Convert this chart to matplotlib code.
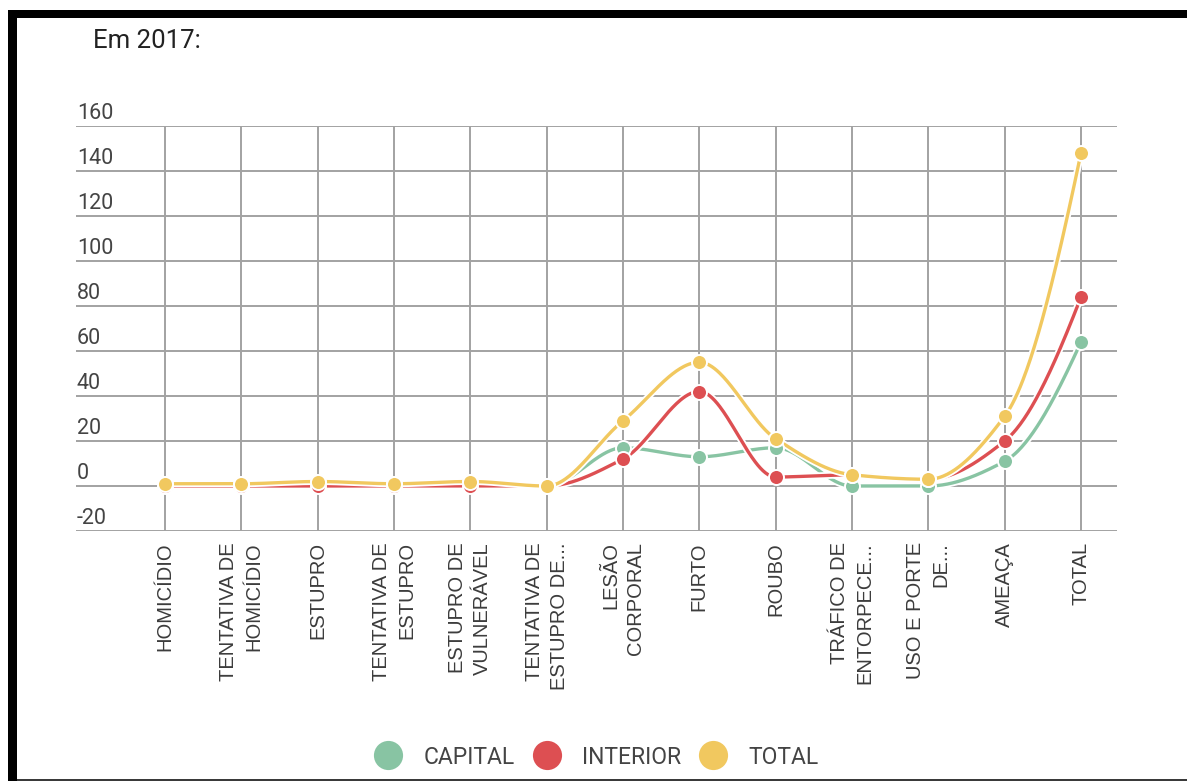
import numpy as np
import matplotlib
matplotlib.use("Agg")
import matplotlib.pyplot as plt
import matplotlib.patheffects as pe
import matplotlib.transforms as mtransforms
from matplotlib.patches import Rectangle
from matplotlib.lines import Line2D

# ---------------- data ----------------
categories = [
    "HOMICÍDIO",
    "TENTATIVA DE\nHOMICÍDIO",
    "ESTUPRO",
    "TENTATIVA DE\nESTUPRO",
    "ESTUPRO DE\nVULNERÁVEL",
    "TENTATIVA DE\nESTUPRO DE...",
    "LESÃO\nCORPORAL",
    "FURTO",
    "ROUBO",
    "TRÁFICO DE\nENTORPECE...",
    "USO E PORTE\nDE...",
    "AMEAÇA",
    "TOTAL",
]
capital = [1, 1, 2, 1, 2, 0, 17, 13, 17, 0, 0, 11, 64]
interior = [0, 0, 0, 0, 0, 0, 12, 42, 4, 5, 3, 20, 84]
total = [1, 1, 2, 1, 2, 0, 29, 55, 21, 5, 3, 31, 148]
series_names = ["CAPITAL", "INTERIOR", "TOTAL"]
series_colors = ["#88c4a3", "#dd4f52", "#f1c85f"]
y_ticks = [-20, 0, 20, 40, 60, 80, 100, 120, 140, 160]
title = "Em 2017:"


def pchip(y, n=60):
    """Monotone cubic (Fritsch-Carlson) interpolation on uniform x."""
    y = np.asarray(y, dtype=float)
    m = len(y)
    x = np.arange(m, dtype=float)
    d = np.diff(y)
    s = np.zeros(m)
    for k in range(1, m - 1):
        if d[k - 1] * d[k] <= 0:
            s[k] = 0.0
        else:
            s[k] = 2.0 / (1.0 / d[k - 1] + 1.0 / d[k])

    def end(d0, d1):
        v = (3 * d0 - d1) / 2.0
        if np.sign(v) != np.sign(d0):
            v = 0.0
        elif np.sign(d0) != np.sign(d1) and abs(v) > abs(3 * d0):
            v = 3 * d0
        return v
    s[0] = end(d[0], d[1])
    s[-1] = end(d[-1], d[-2])
    xs, ys = [], []
    for k in range(m - 1):
        t = np.linspace(0, 1, n, endpoint=(k == m - 2))
        h00 = 2 * t**3 - 3 * t**2 + 1
        h10 = t**3 - 2 * t**2 + t
        h01 = -2 * t**3 + 3 * t**2
        h11 = t**3 - t**2
        xs.append(x[k] + t)
        ys.append(h00 * y[k] + h10 * s[k] + h01 * y[k + 1] + h11 * s[k + 1])
    return np.concatenate(xs), np.concatenate(ys)


W, H = 1187, 781
fig = plt.figure(figsize=(W / 100, H / 100), dpi=100)
fig.patch.set_facecolor("white")

# plot area in pixels
ax_left, ax_right, ax_top, ax_bottom = 76, 1117, 126, 531
ax = fig.add_axes([ax_left / W, 1 - ax_bottom / H,
                   (ax_right - ax_left) / W, (ax_bottom - ax_top) / H])

x0_px, step_px = 165, (1081 - 165) / 12
ax.set_xlim(-(x0_px - ax_left) / step_px, 12 + (ax_right - 1081) / step_px)
ax.set_ylim(-20, 160)

for sp in ax.spines.values():
    sp.set_visible(False)
ax.set_axisbelow(True)
ax.set_xticks(range(len(categories)))
ax.set_yticks(y_ticks)
ax.grid(True, color="#a2a2a2", linewidth=1.4)
ax.tick_params(length=0)
ax.set_yticklabels([])
ax.set_xticklabels(categories, rotation=90, fontsize=14.5,
                   family=["Liberation Sans", "DejaVu Sans"], color="#3c3c3c")
ax.tick_params(axis="x", pad=8)
for lab in ax.get_xticklabels():
    lab.set_multialignment("right")
    lab.set_linespacing(1.4)

# y tick labels sitting on top of the gridlines
trans = mtransforms.offset_copy(ax.get_yaxis_transform(), fig=fig, x=1, y=2, units="dots")
for v in y_ticks:
    ax.text(0.0, v, str(v), transform=trans, ha="left", va="bottom",
            fontsize=15.5, family="Roboto", color="#444444")

# series
for vals, col in zip([capital, interior, total], series_colors):
    xs, ys = pchip(vals)
    ax.plot(xs, ys, color=col, linewidth=2.4, solid_capstyle="round",
            path_effects=[pe.Stroke(linewidth=5.0, foreground="white"), pe.Normal()],
            zorder=3)
    ax.plot(range(len(vals)), vals, linestyle="none", marker="o", markersize=10.8,
            markerfacecolor=col, markeredgecolor="white", markeredgewidth=1.4,
            zorder=4, clip_on=False)

# title
fig.text(93 / W, 1 - 48 / H, title, fontsize=18.5, family="Roboto",
         color="#222222", ha="left", va="baseline")

# legend
handles = [Line2D([], [], linestyle="none", marker="o", markersize=21,
                  markerfacecolor=c, markeredgecolor="white", markeredgewidth=0)
           for c in series_colors]
leg = fig.legend(handles, series_names, loc="center", bbox_to_anchor=(597 / W, 1 - 757 / H),
                 ncol=3, frameon=False, handlelength=1.1, handletextpad=0.98,
                 columnspacing=0.85, prop={"family": "Roboto", "size": 16.5})
for t in leg.get_texts():
    t.set_color("#444444")

# outer frame (black border on top and left, thin line at bottom)
fig.add_artist(Rectangle((8 / W, 1 - 18 / H), 1 - 8 / W, 8 / H,
                         transform=fig.transFigure, color="black", lw=0))
fig.add_artist(Rectangle((8 / W, 0), 9 / W, 1 - 10 / H,
                         transform=fig.transFigure, color="black", lw=0))
fig.add_artist(Rectangle((17 / W, 1 - 781 / H), 1 - 17 / W, 2.5 / H,
                         transform=fig.transFigure, color="#3a3a3a", lw=0))

fig.savefig("out.png", dpi=100, facecolor="white")
